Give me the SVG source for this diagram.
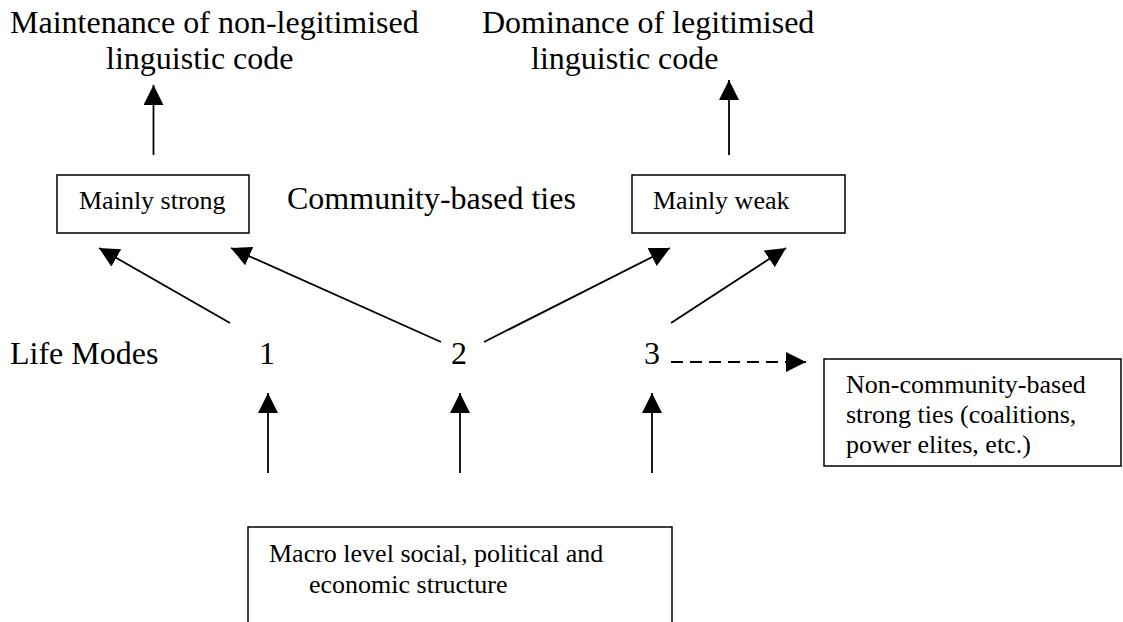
<svg xmlns="http://www.w3.org/2000/svg" width="1123" height="622" viewBox="0 0 1123 622">
<style>
text{font-family:"Liberation Serif","Times New Roman",serif;fill:#000}
.big{font-size:32px}
.small{font-size:26px}
.box{fill:#fff;stroke:#000;stroke-width:1.5}
.ln{stroke:#000;stroke-width:1.8;fill:none}
.dash{stroke-dasharray:12 7}
</style>
<defs>
<marker id="ah" viewBox="0 0 20 20" refX="20" refY="10" markerWidth="20" markerHeight="20" markerUnits="userSpaceOnUse" orient="auto">
<path d="M0,0 L20,10 L0,20 z" fill="#000"/>
</marker>
</defs>
<g id="outcome-left">
<text class="big" x="10" y="33">Maintenance of non-legitimised</text>
<text class="big" x="106" y="69">linguistic code</text>
</g>
<g id="outcome-right">
<text class="big" x="482" y="33">Dominance of legitimised</text>
<text class="big" x="531" y="69">linguistic code</text>
</g>
<g id="mainly-strong">
<rect class="box" x="57" y="175" width="192" height="58"/>
<text class="small" x="79" y="209">Mainly strong</text>
</g>
<g id="community-label">
<text class="big" x="287" y="209">Community-based ties</text>
</g>
<g id="mainly-weak">
<rect class="box" x="632" y="175" width="213" height="58"/>
<text class="small" x="653" y="209">Mainly weak</text>
</g>
<g id="life-modes">
<text class="big" x="10" y="364">Life Modes</text>
</g>
<g id="mode1"><text class="big" x="267" y="364" text-anchor="middle">1</text></g>
<g id="mode2"><text class="big" x="459" y="364" text-anchor="middle">2</text></g>
<g id="mode3"><text class="big" x="652" y="364" text-anchor="middle">3</text></g>
<g id="non-community">
<rect class="box" x="824" y="359" width="297" height="107"/>
<text class="small" x="846" y="393">Non-community-based</text>
<text class="small" x="846" y="423">strong ties (coalitions,</text>
<text class="small" x="846" y="453">power elites, etc.)</text>
</g>
<g id="macro">
<rect class="box" x="248" y="527" width="424" height="110"/>
<text class="small" x="269" y="562">Macro level social, political and</text>
<text class="small" x="309" y="593">economic structure</text>
</g>
<g id="connectors">
<line class="ln" x1="153.5" y1="155" x2="153.5" y2="85" marker-end="url(#ah)"/>
<line class="ln" x1="729" y1="155" x2="729" y2="80" marker-end="url(#ah)"/>
<line class="ln" x1="230" y1="323" x2="99" y2="248" marker-end="url(#ah)"/>
<line class="ln" x1="441" y1="342" x2="231" y2="248" marker-end="url(#ah)"/>
<line class="ln" x1="484" y1="342" x2="670" y2="248" marker-end="url(#ah)"/>
<line class="ln" x1="671" y1="323" x2="786" y2="248" marker-end="url(#ah)"/>
<line class="ln dash" x1="671" y1="362" x2="806" y2="362" marker-end="url(#ah)"/>
<line class="ln" x1="268" y1="473" x2="268" y2="393" marker-end="url(#ah)"/>
<line class="ln" x1="460" y1="473" x2="460" y2="393" marker-end="url(#ah)"/>
<line class="ln" x1="652" y1="473" x2="652" y2="393" marker-end="url(#ah)"/>
</g>
</svg>
